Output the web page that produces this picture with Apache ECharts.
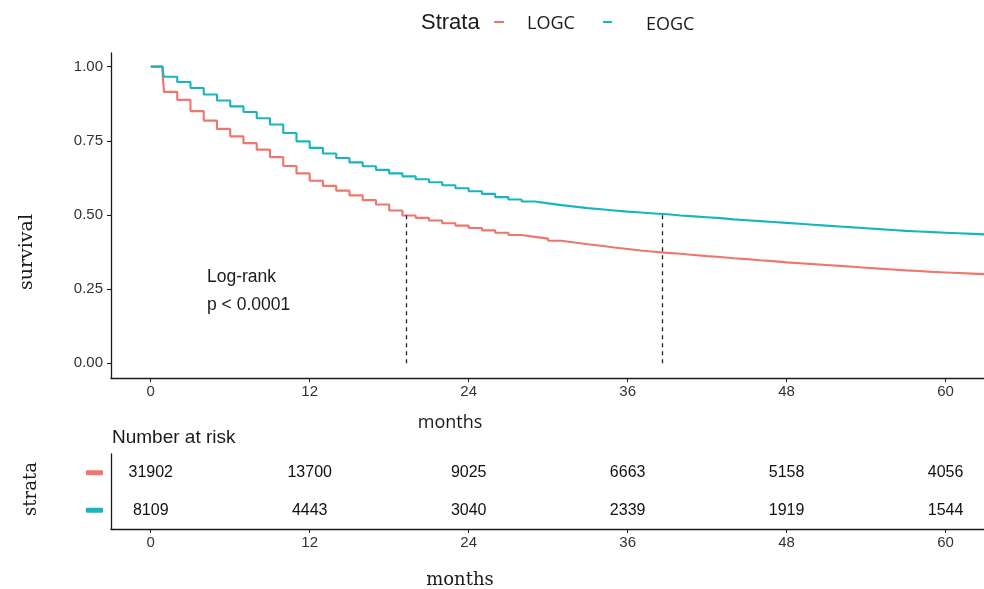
<!DOCTYPE html>
<html>
<head>
<meta charset="utf-8">
<script src="https://cdn.jsdelivr.net/npm/echarts@6/dist/echarts.min.js"></script>
<style>
html,body{margin:0;padding:0;background:#fff;}
#chart{width:984px;height:589px;}
</style>
</head>
<body>
<div id="chart"></div>
<script>
// ---- data ----
const timePoints = [0, 0.9, 1, 2, 3, 4, 5, 6, 7, 8, 9, 10, 11, 12, 13, 14, 15, 16, 17, 18, 19, 20,
  21, 22, 23, 24, 25, 26, 27, 28, 29, 30, 31, 32, 33, 34, 35, 36, 37, 38, 39, 40,
  41, 42, 43, 44, 45, 46, 47, 48, 49, 50, 51, 52, 53, 54, 55, 56, 57, 58, 59, 60, 61, 62, 63];
const logcSurv = [1.000, 0.972, 0.915, 0.888, 0.850, 0.818, 0.790, 0.765, 0.742, 0.720, 0.695, 0.665, 0.640, 0.615, 0.598, 0.582, 0.566, 0.550, 0.535, 0.515, 0.498, 0.490,
  0.481, 0.472, 0.464, 0.456, 0.448, 0.440, 0.432, 0.426, 0.420, 0.413, 0.407, 0.401, 0.396, 0.390, 0.385, 0.380, 0.376, 0.372, 0.369, 0.365,
  0.361, 0.358, 0.354, 0.351, 0.347, 0.344, 0.340, 0.337, 0.334, 0.331, 0.328, 0.325, 0.322, 0.319, 0.316, 0.313, 0.311, 0.308, 0.306, 0.304, 0.302, 0.300, 0.298];
const eogcSurv = [1.000, 0.985, 0.966, 0.948, 0.928, 0.906, 0.886, 0.866, 0.847, 0.826, 0.805, 0.776, 0.748, 0.726, 0.707, 0.692, 0.677, 0.664, 0.652, 0.640, 0.630, 0.620,
  0.610, 0.600, 0.590, 0.580, 0.571, 0.560, 0.552, 0.545, 0.539, 0.533, 0.528, 0.523, 0.519, 0.515, 0.511, 0.508, 0.505, 0.502, 0.498, 0.495,
  0.492, 0.489, 0.485, 0.482, 0.479, 0.476, 0.473, 0.470, 0.467, 0.464, 0.461, 0.458, 0.455, 0.452, 0.449, 0.446, 0.444, 0.442, 0.440, 0.438, 0.436, 0.434, 0.432];
const strata = ['LOGC', 'EOGC'];
const medianTimes = [19.3, 38.6];
const xTicks = [0, 12, 24, 36, 48, 60];
const yTicks = [0, 0.25, 0.5, 0.75, 1];
const riskTimes = [0, 12, 24, 36, 48, 60];
const logcRisk = [31902, 13700, 9025, 6663, 5158, 4056];
const eogcRisk = [8109, 4443, 3040, 2339, 1919, 1544];

const colors = { LOGC: '#EE766D', EOGC: '#17B6BF' };
const axisColor = '#1a1a1a';
const textColor = '#1a1a1a';
const tickColor = '#333333';

const chart = echarts.init(document.getElementById('chart'), null, { renderer: 'canvas' });

function pairs(t, s) { return t.map((x, i) => [x, s[i]]); }

const riskData = [];
riskTimes.forEach((t, i) => {
  riskData.push([t, 'LOGC', logcRisk[i]]);
  riskData.push([t, 'EOGC', eogcRisk[i]]);
});

const xCommon = {
  type: 'value', min: -3, max: 62.9,
  axisLine: { show: true, onZero: false, lineStyle: { color: axisColor, width: 1.3 } },
  axisTick: { show: true, customValues: xTicks, length: 4, lineStyle: { color: axisColor, width: 1 } },
  axisLabel: { customValues: xTicks, color: tickColor, fontSize: 15, fontFamily: 'Liberation Sans', margin: 6 },
  splitLine: { show: false }
};

const dashStyle = { type: [4, 4], color: '#222', width: 1.3 };

const option = {
  animation: false,
  backgroundColor: '#ffffff',
  grid: [
    { left: 111, right: 0, top: 53, height: 325 },
    { left: 111, right: 0, top: 454, height: 75 }
  ],
  xAxis: [
    Object.assign({ gridIndex: 0 }, xCommon),
    Object.assign({ gridIndex: 1 }, xCommon)
  ],
  yAxis: [
    {
      gridIndex: 0, type: 'value', min: -0.05, max: 1.046,
      axisLine: { show: true, onZero: false, lineStyle: { color: axisColor, width: 1.3 } },
      axisTick: { show: true, customValues: yTicks, length: 4, lineStyle: { color: axisColor, width: 1 } },
      axisLabel: { customValues: yTicks, formatter: v => v.toFixed(2), color: tickColor, fontSize: 15, fontFamily: 'Liberation Sans', margin: 8 },
      splitLine: { show: false }
    },
    {
      gridIndex: 1, type: 'category', data: strata, inverse: true,
      axisLine: { show: true, onZero: false, lineStyle: { color: axisColor, width: 1.3 } },
      axisTick: { show: false },
      axisLabel: {
        margin: 8,
        formatter: v => '{' + v + '|}',
        rich: {
          LOGC: { width: 17, height: 5, backgroundColor: colors.LOGC, borderRadius: 1 },
          EOGC: { width: 17, height: 5, backgroundColor: colors.EOGC, borderRadius: 1 }
        }
      },
      splitLine: { show: false }
    }
  ],
  series: [
    {
      name: 'LOGC', type: 'line', xAxisIndex: 0, yAxisIndex: 0, step: 'end',
      data: pairs(timePoints, logcSurv), showSymbol: false, symbol: 'none',
      lineStyle: { color: colors.LOGC, width: 2.1 }, clip: true,
      markLine: {
        silent: true, symbol: 'none', label: { show: false }, lineStyle: dashStyle,
        data: [[{ coord: [medianTimes[0], 0] }, { coord: [medianTimes[0], 0.5] }]]
      }
    },
    {
      name: 'EOGC', type: 'line', xAxisIndex: 0, yAxisIndex: 0, step: 'end',
      data: pairs(timePoints, eogcSurv), showSymbol: false, symbol: 'none',
      lineStyle: { color: colors.EOGC, width: 2.1 }, clip: true,
      markLine: {
        silent: true, symbol: 'none', label: { show: false }, lineStyle: dashStyle,
        data: [[{ coord: [medianTimes[1], 0] }, { coord: [medianTimes[1], 0.5] }]]
      }
    },
    {
      name: 'risk', type: 'scatter', xAxisIndex: 1, yAxisIndex: 1,
      data: riskData, symbolSize: 2, itemStyle: { color: 'rgba(255,255,255,0)' },
      label: {
        show: true, position: 'inside', formatter: p => String(p.value[2]),
        color: '#111111', opacity: 1, textBorderWidth: 0, fontSize: 16, fontFamily: 'Liberation Sans'
      },
      emphasis: { disabled: true }
    }
  ],
  graphic: [
    { type: 'text', x: 421, y: 23, style: { text: 'Strata', font: '22px "Liberation Sans"', fill: textColor, align: 'left', verticalAlign: 'middle' } },
    { type: 'rect', shape: { x: 494, y: 21, width: 10, height: 2 }, style: { fill: colors.LOGC } },
    { type: 'text', x: 527, y: 24, style: { text: 'LOGC', font: '18px "Open Sans"', fill: textColor, align: 'left', verticalAlign: 'middle' } },
    { type: 'rect', shape: { x: 603, y: 21, width: 9, height: 2 }, style: { fill: colors.EOGC } },
    { type: 'text', x: 646, y: 25, style: { text: 'EOGC', font: '18px "Open Sans"', fill: textColor, align: 'left', verticalAlign: 'middle' } },
    { type: 'text', x: 207, y: 277, style: { text: 'Log-rank', font: '17.5px "Liberation Sans"', fill: textColor, align: 'left', verticalAlign: 'middle' } },
    { type: 'text', x: 207, y: 305, style: { text: 'p < 0.0001', font: '17.5px "Liberation Sans"', fill: textColor, align: 'left', verticalAlign: 'middle' } },
    { type: 'text', x: 450, y: 423, style: { text: 'months', font: '18px "Open Sans"', fill: textColor, align: 'center', verticalAlign: 'middle' } },
    { type: 'text', x: 112, y: 438, style: { text: 'Number at risk', font: '19px "Liberation Sans"', fill: textColor, align: 'left', verticalAlign: 'middle' } },
    { type: 'text', x: 460, y: 580, style: { text: 'months', font: '18px "DejaVu Serif"', fill: textColor, align: 'center', verticalAlign: 'middle' } },
    { type: 'text', x: 27, y: 252, rotation: Math.PI / 2, style: { text: 'survival', font: '19px "DejaVu Serif"', fill: textColor, align: 'center', verticalAlign: 'middle' } },
    { type: 'text', x: 31, y: 489, rotation: Math.PI / 2, style: { text: 'strata', font: '18px "DejaVu Serif"', fill: textColor, align: 'center', verticalAlign: 'middle' } }
  ]
};

chart.setOption(option);
</script>
</body>
</html>
